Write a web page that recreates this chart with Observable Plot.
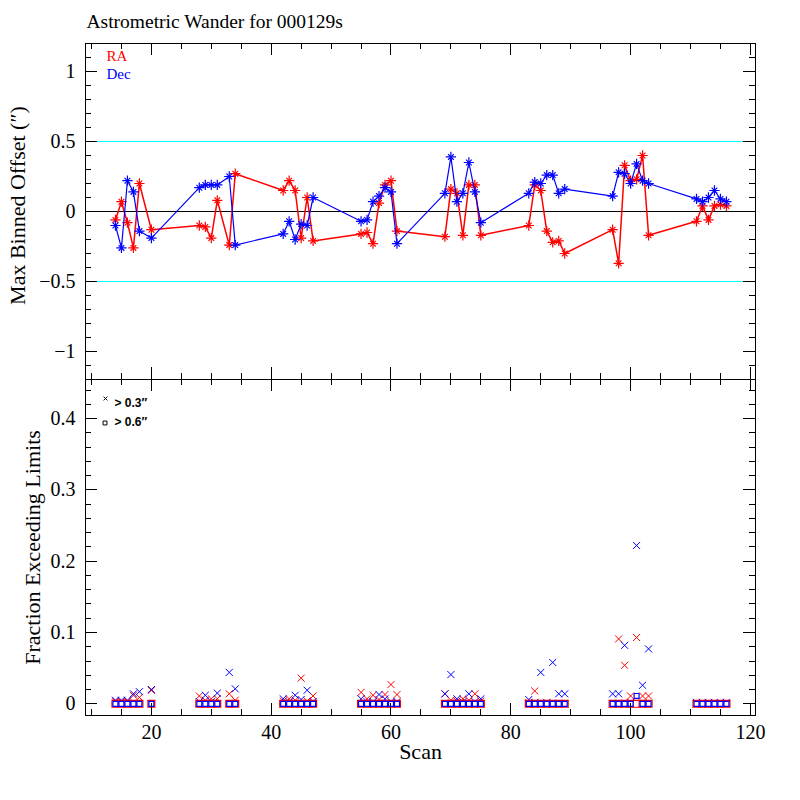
<!DOCTYPE html>
<html>
<head>
<meta charset="utf-8">
<script src="https://cdn.jsdelivr.net/npm/d3@7"></script>
<script src="https://cdn.jsdelivr.net/npm/@observablehq/plot@0.6"></script>
<style>
  html, body { margin: 0; padding: 0; background: white; }
  #chart { position: relative; width: 800px; height: 800px; background: white; overflow: hidden; }
  #chart svg { position: absolute; left: 0; display: block; }
</style>
</head>
<body>
<div id="chart"></div>
<script>
// ---- data ----
const scans = [14,15,16,17,18,20, 28,29,30,31,33,34, 42,43,44,45,46,47,
  55,56,57,58,59,60,61, 69,70,71,72,73,74,75, 83,84,85,86,87,88,89,
  97,98,99,100,101,102,103, 111,112,113,114,115,116];

const raOffset = [-0.06,0.07,-0.08,-0.26,0.20,-0.13, -0.10,-0.11,-0.19,0.08,-0.24,0.27,
  0.15,0.22,0.15,-0.19,0.10,-0.21, -0.16,-0.15,-0.23,0.06,0.19,0.22,-0.14,
  -0.18,0.16,0.13,-0.17,0.19,0.19,-0.17, -0.10,0.19,0.15,-0.14,-0.22,-0.21,-0.30,
  -0.13,-0.37,0.33,0.22,0.23,0.40,-0.17, -0.07,0.04,-0.06,0.04,0.05,0.04];

const decOffset = [-0.10,-0.26,0.22,0.14,-0.14,-0.19, 0.17,0.19,0.19,0.19,0.25,-0.24,
  -0.16,-0.07,-0.20,-0.09,-0.10,0.10, -0.07,-0.06,0.07,0.11,0.17,0.14,-0.23,
  0.13,0.39,0.07,0.13,0.35,0.14,-0.08, 0.13,0.21,0.20,0.26,0.26,0.13,0.16,
  0.11,0.28,0.27,0.20,0.34,0.22,0.20, 0.09,0.07,0.10,0.15,0.09,0.07];

const raFrac03 = [0.003,0.003,0.003,0.012,0.009,0.019, 0.011,0.005,0.007,0.007,0.014,0.005,
  0.004,0.007,0.005,0.036,0.004,0.011, 0.016,0.007,0.012,0.006,0.013,0.027,0.013,
  0.014,0.005,0.004,0.007,0.005,0.014,0.004, 0.002,0.018,0,0,0,0,0,
  0,0.091,0.054,0.011,0.093,0.011,0.011, 0,0,0,0,0,0];

const decFrac03 = [0.005,0.005,0.005,0.014,0.017,0.020, 0.003,0.012,0.003,0.015,0.044,0.021,
  0.007,0.003,0.012,0.006,0.019,0.003, 0.007,0.003,0.003,0.013,0.007,0.003,0.003,
  0.014,0.041,0.007,0.003,0.014,0.003,0.007, 0.006,0.002,0.044,0.002,0.058,0.014,0.014,
  0.014,0.014,0.082,0.002,0.222,0.026,0.077, 0.002,0.002,0.002,0.002,0.002,0.002];

const raFrac06 = [0,0,0,0,0,0, 0,0,0,0,0,0, 0,0,0,0,0,0, 0,0,0,0,0,0,0,
  0,0,0,0,0,0,0, 0,0,0,0,0,0,0, 0,0,0,0,0,0,0, 0,0,0,0,0,0];

const decFrac06 = [0,0,0,0,0,0, 0,0,0,0,0,0, 0,0,0,0,0,0, 0,0,0,0,0,0,0,
  0,0,0,0,0,0,0, 0,0,0,0,0,0,0, 0,0,0,0,0.011,0,0, 0,0,0,0,0,0];

const limitLines = [-0.5, 0.5];
const xTickLabels = [20, 40, 60, 80, 100, 120];
const topYTicks = [-1, -0.5, 0, 0.5, 1];
const bottomYTicks = [0, 0.1, 0.2, 0.3, 0.4];

const titleText = "Astrometric Wander for 000129s";
const topYLabel = "Max Binned Offset (\u2033)";
const bottomYLabel = "Fraction Exceeding Limits";
const xLabel = "Scan";

// ---- build table ----
const rows = scans.map((s, i) => ({
  scan: s, ra: raOffset[i], dec: decOffset[i],
  ra3: raFrac03[i], dec3: decFrac03[i], ra6: raFrac06[i], dec6: decFrac06[i]
}));

const W = 800, ML = 85, MR = 45;
const IW = W - ML - MR;
const H1 = 336;
const xDomain = [9, 120.85];
const xMajor = [20, 40, 60, 80, 100, 120];
const xMinor = d3.range(10, 121, 5);
const topMinor = d3.range(-11, 12).map(d => d / 10);
const botMinor = d3.range(0, 23).map(d => d * 0.02);

const fmt = d => (d < 0 ? "\u2212" + Math.abs(d) : String(d));
const font = "Liberation Serif";
const baseStyle = {fontFamily: font, fontSize: "20px", background: "transparent", color: "black", overflow: "visible"};

function frameTicks(yMajor, yMinor) {
  const ce = {stroke: "black", strokeWidth: 1, shapeRendering: "crispEdges"};
  return [
    Plot.tickY(yMajor, {y: d => d, insetRight: IW - 12, ...ce}),
    Plot.tickY(yMajor, {y: d => d, insetLeft: IW - 12, ...ce}),
    Plot.tickY(yMinor, {y: d => d, insetRight: IW - 6, ...ce}),
    Plot.tickY(yMinor, {y: d => d, insetLeft: IW - 6, ...ce}),
    Plot.tickX(xMajor, {x: d => d, insetBottom: H1 - 12, ...ce}),
    Plot.tickX(xMajor, {x: d => d, insetTop: H1 - 12, ...ce}),
    Plot.tickX(xMinor, {x: d => d, insetBottom: H1 - 6, ...ce}),
    Plot.tickX(xMinor, {x: d => d, insetTop: H1 - 6, ...ce}),
    Plot.frame({stroke: "black", strokeWidth: 1, shapeRendering: "crispEdges"})
  ];
}

const topChart = Plot.plot({
  width: W, height: 43 + H1, marginTop: 43, marginBottom: 0, marginLeft: ML, marginRight: MR,
  style: baseStyle,
  x: {domain: xDomain, axis: null},
  y: {domain: [-1.2, 1.2]},
  marks: [
    Plot.ruleY(limitLines, {y: d => d, stroke: "#00ffff", strokeWidth: 1, shapeRendering: "crispEdges"}),
    Plot.ruleY([0], {stroke: "black", strokeWidth: 1, shapeRendering: "crispEdges"}),
    Plot.line(rows, {x: "scan", y: "ra", stroke: "#ff0000", strokeWidth: 1.5}),
    Plot.dot(rows, {x: "scan", y: "ra", symbol: "plus", r: 3.4, stroke: "#ff0000", strokeWidth: 1.2}),
    Plot.dot(rows, {x: "scan", y: "ra", symbol: "times", r: 2.7, stroke: "#ff0000", strokeWidth: 1.2}),
    Plot.line(rows, {x: "scan", y: "dec", stroke: "#0000ff", strokeWidth: 1.2}),
    Plot.dot(rows, {x: "scan", y: "dec", symbol: "plus", r: 3.4, stroke: "#0000ff", strokeWidth: 1.2}),
    Plot.dot(rows, {x: "scan", y: "dec", symbol: "times", r: 2.7, stroke: "#0000ff", strokeWidth: 1.2}),
    ...frameTicks(topYTicks, topMinor),
    Plot.axisY({ticks: topYTicks, tickFormat: fmt, tickSize: 0, tickPadding: 10, label: null, fontSize: 20}),
    Plot.text([titleText], {text: d => d, frameAnchor: "top-left", dx: 1, dy: -16, lineAnchor: "bottom", textAnchor: "start", fontSize: 19.5}),
    Plot.text(["RA"], {text: d => d, frameAnchor: "top-left", dx: 21, dy: 17, lineAnchor: "bottom", textAnchor: "start", fontSize: 15, fill: "#ff0000"}),
    Plot.text(["Dec"], {text: d => d, frameAnchor: "top-left", dx: 21, dy: 35, lineAnchor: "bottom", textAnchor: "start", fontSize: 15, fill: "#0000ff"}),
    Plot.text([topYLabel], {text: d => d, frameAnchor: "left", rotate: -90, dx: -68, dy: -6, lineAnchor: "middle", textAnchor: "middle", fontSize: 22})
  ]
});

const bottomChart = Plot.plot({
  width: W, height: H1 + 85, marginTop: 0, marginBottom: 85, marginLeft: ML, marginRight: MR,
  style: baseStyle,
  x: {domain: xDomain},
  y: {domain: [-0.0164, 0.4548]},
  marks: [
    Plot.dot(rows, {x: "scan", y: "ra3", symbol: "times", r: 3.3, stroke: "#ff0000", strokeWidth: 1}),
    Plot.dot(rows, {x: "scan", y: "dec3", symbol: "times", r: 3.3, stroke: "#0000ff", strokeWidth: 1}),
    Plot.dot(rows, {x: "scan", y: "ra6", symbol: "square", r: 3.9, stroke: "#ff0000", fill: "white", strokeWidth: 1.2}),
    Plot.dot(rows, {x: "scan", y: "dec6", symbol: "square", r: 2.8, stroke: "#0000ff", fill: "white", strokeWidth: 1.2}),
    ...frameTicks(bottomYTicks, botMinor),
    Plot.axisY({ticks: bottomYTicks, tickFormat: fmt, tickSize: 0, tickPadding: 10, label: null, fontSize: 20}),
    Plot.axisX({ticks: xTickLabels, tickFormat: d => String(d), tickSize: 0, tickPadding: 9, label: null, fontSize: 20}),
    Plot.text([xLabel], {text: d => d, frameAnchor: "bottom", dy: 36, lineAnchor: "middle", textAnchor: "middle", fontSize: 22}),
    Plot.text([bottomYLabel], {text: d => d, frameAnchor: "left", rotate: -90, dx: -53, dy: 0, lineAnchor: "middle", textAnchor: "middle", fontSize: 22}),
    Plot.dot([0], {frameAnchor: "top-left", dx: 20, dy: 19, symbol: "times", r: 1.9, stroke: "black", strokeWidth: 0.9}),
    Plot.text(["> 0.3\u2033"], {text: d => d, frameAnchor: "top-left", dx: 29, dy: 27, lineAnchor: "bottom", textAnchor: "start", fontFamily: "Liberation Sans", fontSize: 12, fontWeight: "bold"}),
    Plot.dot([0], {frameAnchor: "top-left", dx: 19.5, dy: 43.5, symbol: "square", r: 2.2, stroke: "black", strokeWidth: 1, fill: "none"}),
    Plot.text(["> 0.6\u2033"], {text: d => d, frameAnchor: "top-left", dx: 29, dy: 46, lineAnchor: "bottom", textAnchor: "start", fontFamily: "Liberation Sans", fontSize: 12, fontWeight: "bold"})
  ]
});

const chart = document.getElementById("chart");
topChart.style.top = "0px";
bottomChart.style.top = "379px";
chart.appendChild(bottomChart);
chart.appendChild(topChart);
</script>
</body>
</html>
